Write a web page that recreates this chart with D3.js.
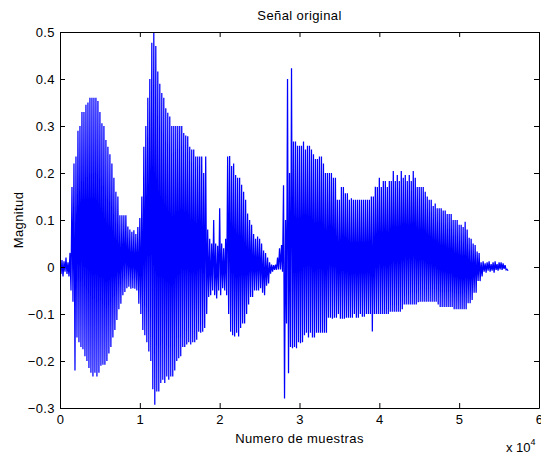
<!DOCTYPE html>
<html>
<head>
<meta charset="utf-8">
<script src="https://cdn.jsdelivr.net/npm/d3@7/dist/d3.min.js"></script>
<style>
  html, body { margin: 0; padding: 0; background: #fff; }
  svg { display: block; }
  text { font-family: "Liberation Sans", Arial, sans-serif; fill: #000; }
</style>
</head>
<body>
<script>
// Waveform summarised per block of 250 samples: the highest and lowest value in each block.
const samplesPerBlock = 250;
const blockMax = [
  0.01, 0.015, 0.012, 0.02, 0.01, 0.03, 0.17, 0.22, 0.235, 0.29,
  0.3, 0.33, 0.33, 0.345, 0.35, 0.36, 0.36, 0.36, 0.36, 0.353,
  0.33, 0.306, 0.3, 0.27, 0.256, 0.24, 0.22, 0.19, 0.16, 0.15,
  0.11, 0.11, 0.11, 0.11, 0.086, 0.08, 0.075, 0.078, 0.07, 0.085,
  0.104, 0.15, 0.256, 0.3, 0.36, 0.4, 0.477, 0.5, 0.47, 0.416,
  0.39, 0.37, 0.36, 0.338, 0.328, 0.32, 0.3, 0.3, 0.3, 0.3,
  0.3, 0.3, 0.285, 0.28, 0.278, 0.256, 0.25, 0.25, 0.235, 0.235,
  0.235, 0.235, 0.2, 0.235, 0.08, 0.06, 0.05, 0.1, 0.05, 0.045,
  0.125, 0.05, 0.04, 0.06, 0.235, 0.236, 0.215, 0.22, 0.196, 0.19,
  0.19, 0.175, 0.16, 0.143, 0.114, 0.1, 0.09, 0.07, 0.06, 0.065,
  0.06, 0.05, 0.035, 0.03, 0.02, 0.01, 0.005, 0.004, 0.005, 0.02,
  0.04, 0.047, 0.174, 0.1, 0.4, 0.2, 0.423, 0.267, 0.267, 0.258,
  0.258, 0.258, 0.267, 0.25, 0.258, 0.258, 0.25, 0.24, 0.23, 0.23,
  0.235, 0.235, 0.22, 0.2, 0.2, 0.2, 0.2, 0.19, 0.19, 0.143,
  0.143, 0.17, 0.17, 0.157, 0.157, 0.143, 0.146, 0.143, 0.143, 0.143,
  0.143, 0.143, 0.143, 0.143, 0.143, 0.143, 0.15, 0.15, 0.171, 0.17,
  0.19, 0.17, 0.183, 0.183, 0.17, 0.183, 0.183, 0.204, 0.183, 0.196,
  0.183, 0.204, 0.19, 0.196, 0.183, 0.196, 0.183, 0.204, 0.19, 0.17,
  0.17, 0.17, 0.17, 0.16, 0.15, 0.143, 0.143, 0.13, 0.135, 0.125,
  0.125, 0.125, 0.12, 0.12, 0.113, 0.113, 0.113, 0.1, 0.1, 0.1,
  0.09, 0.09, 0.085, 0.096, 0.08, 0.062, 0.06, 0.05, 0.047, 0.033,
  0.03, 0.01, 0.012, 0.008, 0.01, 0.012, 0.006, 0.01, 0.012, 0.006,
  0.01, 0.01, 0.008, 0.004, -0.005
];
const blockMin = [
  -0.015, -0.02, -0.01, -0.015, -0.02, -0.05, -0.074, -0.22, -0.15, -0.16,
  -0.17, -0.175, -0.19, -0.2, -0.215, -0.225, -0.233, -0.225, -0.233, -0.225,
  -0.21, -0.208, -0.208, -0.2, -0.184, -0.17, -0.15, -0.134, -0.113, -0.09,
  -0.078, -0.06, -0.053, -0.045, -0.042, -0.046, -0.045, -0.046, -0.05, -0.078,
  -0.1, -0.134, -0.145, -0.16, -0.18, -0.2, -0.26, -0.293, -0.265, -0.265,
  -0.247, -0.24, -0.247, -0.233, -0.24, -0.233, -0.233, -0.22, -0.2, -0.194,
  -0.19, -0.17, -0.17, -0.165, -0.16, -0.165, -0.16, -0.16, -0.155, -0.138,
  -0.14, -0.138, -0.13, -0.1, -0.064, -0.06, -0.05, -0.06, -0.067, -0.05,
  -0.06, -0.045, -0.05, -0.06, -0.1, -0.138, -0.145, -0.148, -0.14, -0.148,
  -0.13, -0.12, -0.12, -0.1, -0.08, -0.064, -0.064, -0.05, -0.05, -0.05,
  -0.045, -0.055, -0.06, -0.04, -0.035, -0.014, -0.01, -0.006, -0.006, -0.005,
  -0.005, -0.01, -0.28, -0.12, -0.226, -0.17, -0.173, -0.17, -0.173, -0.16,
  -0.162, -0.16, -0.145, -0.14, -0.15, -0.14, -0.15, -0.15, -0.14, -0.14,
  -0.14, -0.14, -0.14, -0.14, -0.108, -0.108, -0.11, -0.108, -0.108, -0.1,
  -0.11, -0.11, -0.11, -0.108, -0.108, -0.108, -0.108, -0.1, -0.108, -0.108,
  -0.1, -0.106, -0.106, -0.1, -0.1, -0.1, -0.137, -0.1, -0.1, -0.1,
  -0.1, -0.1, -0.1, -0.1, -0.1, -0.095, -0.095, -0.095, -0.095, -0.095,
  -0.095, -0.09, -0.08, -0.08, -0.08, -0.08, -0.08, -0.08, -0.08, -0.075,
  -0.074, -0.074, -0.074, -0.074, -0.074, -0.074, -0.074, -0.074, -0.074, -0.08,
  -0.085, -0.085, -0.085, -0.085, -0.085, -0.085, -0.085, -0.09, -0.09, -0.09,
  -0.09, -0.09, -0.09, -0.09, -0.077, -0.077, -0.07, -0.055, -0.055, -0.03,
  -0.03, -0.02, -0.01, -0.012, -0.008, -0.01, -0.008, -0.012, -0.006, -0.008,
  -0.005, -0.006, -0.004, -0.006, -0.008
];
const xTicks = [0, 10000, 20000, 30000, 40000, 50000, 60000];
const yTicks = [-0.3, -0.2, -0.1, 0, 0.1, 0.2, 0.3, 0.4, 0.5];
const titleText = "Señal original";
const xLabel = "Numero de muestras";
const yLabel = "Magnitud";

const W = 541, H = 455;
const plot = { left: 60, right: 539, top: 32, bottom: 408 };
const fontSize = 13;
const letterGap = "0.4px";

const svg = d3.select("body").append("svg").attr("width", W).attr("height", H);

const x = d3.scaleLinear().domain([0, 60000]).range([plot.left, plot.right]);
const y = d3.scaleLinear().domain([-0.3, 0.5]).range([plot.bottom, plot.top]);

svg.append("clipPath").attr("id", "plotClip")
  .append("rect")
  .attr("x", plot.left).attr("y", plot.top)
  .attr("width", plot.right - plot.left).attr("height", plot.bottom - plot.top);

// Trace: alternate between each block's maximum and minimum
const trace = [];
blockMax.forEach((hi, i) => {
  trace.push([i * samplesPerBlock, hi]);
  trace.push([i * samplesPerBlock + samplesPerBlock / 2, blockMin[i]]);
});

const line = d3.line().x(d => x(d[0])).y(d => y(d[1]));

svg.append("path")
  .datum(trace)
  .attr("clip-path", "url(#plotClip)")
  .attr("d", line)
  .attr("fill", "none")
  .attr("stroke", "#0000ff")
  .attr("stroke-width", 1.25);

// Axes with inward ticks on all four sides
const tickFmt = d => d3.format("")(d / 10000);

const xAxisB = svg.append("g")
  .attr("transform", `translate(0,${plot.bottom})`)
  .call(d3.axisBottom(x).tickValues(xTicks).tickSizeInner(-5).tickSizeOuter(0).tickPadding(7).tickFormat(tickFmt));
const xAxisT = svg.append("g")
  .attr("transform", `translate(0,${plot.top})`)
  .call(d3.axisTop(x).tickValues(xTicks).tickSizeInner(-5).tickSizeOuter(0).tickFormat(""));
const yAxisL = svg.append("g")
  .attr("transform", `translate(${plot.left},0)`)
  .call(d3.axisLeft(y).tickValues(yTicks).tickSizeInner(-5).tickSizeOuter(0).tickPadding(5).tickFormat(d3.format("")));
const yAxisR = svg.append("g")
  .attr("transform", `translate(${plot.right},0)`)
  .call(d3.axisRight(y).tickValues(yTicks).tickSizeInner(-5).tickSizeOuter(0).tickFormat(""));

[xAxisB, xAxisT, yAxisL, yAxisR].forEach(g => {
  g.select(".domain").attr("stroke", "#000").attr("stroke-width", 1);
  g.selectAll(".tick line").attr("stroke", "#000");
  g.selectAll("text")
    .style("font-family", '"Liberation Sans", Arial, sans-serif')
    .style("font-size", fontSize + "px")
    .style("letter-spacing", letterGap)
    .attr("fill", "#000");
});

// Title and axis labels
svg.append("text")
  .attr("x", (plot.left + plot.right) / 2).attr("y", 20)
  .attr("text-anchor", "middle").style("font-size", fontSize + "px").style("letter-spacing", letterGap)
  .text(titleText);

svg.append("text")
  .attr("x", (plot.left + plot.right) / 2).attr("y", 443)
  .attr("text-anchor", "middle").style("font-size", fontSize + "px").style("letter-spacing", letterGap)
  .text(xLabel);

svg.append("text")
  .attr("transform", `translate(23,${(plot.top + plot.bottom) / 2}) rotate(-90)`)
  .attr("text-anchor", "middle").style("font-size", fontSize + "px").style("letter-spacing", letterGap)
  .text(yLabel);

// Exponent note for the x axis
const expNote = svg.append("text")
  .attr("x", 506).attr("y", 452)
  .style("font-size", fontSize + "px");
expNote.append("tspan").text("x 10");
expNote.append("tspan").attr("dy", -7).style("font-size", "9px").text("4");
</script>
</body>
</html>
